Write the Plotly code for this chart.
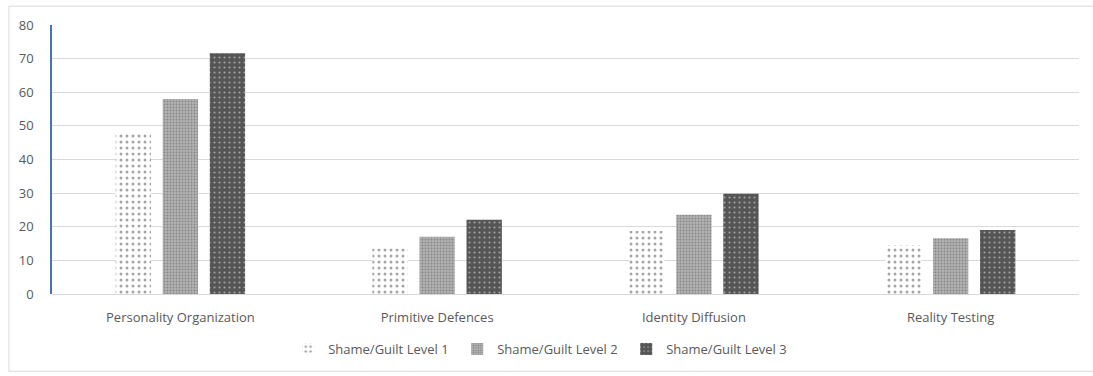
import plotly.graph_objects as go

categories = ["Personality Organization", "Primitive Defences", "Identity Diffusion", "Reality Testing"]
series_names = ["Shame/Guilt Level 1", "Shame/Guilt Level 2", "Shame/Guilt Level 3"]
level1 = [48, 13.6, 18.7, 14.6]
level2 = [58, 17, 23.6, 16.6]
level3 = [71.6, 22.1, 29.8, 19]
y_ticks = [0, 10, 20, 30, 40, 50, 60, 70, 80]

# dotted fills for the three levels: light, medium, dark
styles = [
    dict(bgcolor="#ffffff", fgcolor="#4a4a4a", size=6, solidity=0.2),
    dict(bgcolor="#b2b2b2", fgcolor="#5e5e5e", size=3, solidity=0.35),
    dict(bgcolor="#555555", fgcolor="#f0f0f0", size=5, solidity=0.14),
]

fig = go.Figure()
for name, vals, st in zip(series_names, [level1, level2, level3], styles):
    fig.add_trace(go.Bar(
        x=categories, y=vals, name=name,
        marker=dict(
            color=st["bgcolor"],
            line=dict(width=0),
            pattern=dict(shape=".", fgcolor=st["fgcolor"], bgcolor=st["bgcolor"],
                         size=st["size"], solidity=st["solidity"], fillmode="overlay"),
        ),
    ))

font_family = "'Open Sans', Lato, sans-serif"
fig.update_layout(
    width=1093, height=376,
    margin=dict(l=52, r=14, t=25, b=79),
    paper_bgcolor="white", plot_bgcolor="white",
    barmode="group", bargap=0.45, bargroupgap=0.25,
    font=dict(family=font_family, size=13, color="#595959"),
    showlegend=True,
    legend=dict(orientation="h", x=0.23, xanchor="left", y=-0.205, yanchor="middle",
                font=dict(size=13, color="#595959"), itemwidth=30,
                entrywidth=124, entrywidthmode="pixels",
                traceorder="normal"),
    xaxis=dict(showgrid=False, showline=False, ticks="", ticklabelstandoff=14,
               tickfont=dict(size=13, color="#595959")),
    yaxis=dict(range=[0, 80], tickvals=y_ticks, showgrid=True, gridcolor="#d9d9d9", gridwidth=1,
               showline=True, linecolor="#4472c4", linewidth=1.5, zeroline=True,
               zerolinecolor="#d9d9d9", zerolinewidth=1,
               tickfont=dict(size=13, color="#595959"), ticks="", ticklabelstandoff=14),
    shapes=[dict(type="rect", xref="paper", yref="paper", x0=-0.0419, x1=1.06, y0=-0.287, y1=1.07,
                 line=dict(color="#d9d9d9", width=1), fillcolor="rgba(0,0,0,0)", layer="below")],
)

fig.write_html("out.html")
